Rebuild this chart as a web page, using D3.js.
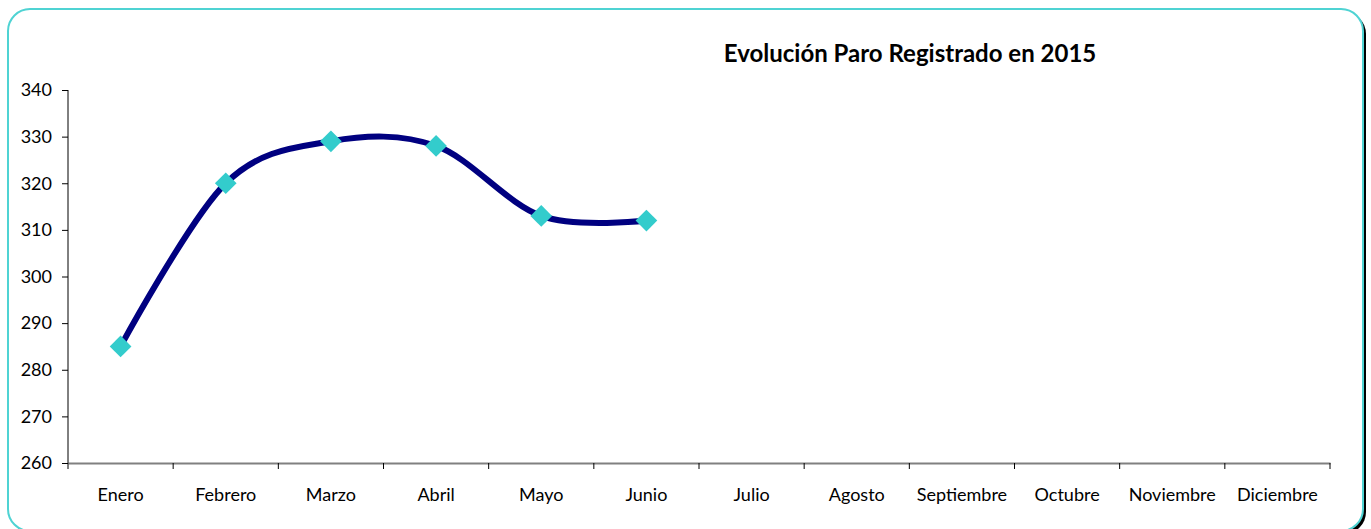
<!DOCTYPE html>
<html>
<head>
<meta charset="utf-8">
<script src="https://cdn.jsdelivr.net/npm/d3@7"></script>
<style>
  body { margin: 0; background: #fff; }
  svg { display: block; font-family: Lato, "Open Sans", sans-serif; }
</style>
</head>
<body>
<div id="chart"></div>
<script>
const months = ["Enero", "Febrero", "Marzo", "Abril", "Mayo", "Junio", "Julio", "Agosto", "Septiembre", "Octubre", "Noviembre", "Diciembre"];
const paro = [285, 320, 329, 328, 313, 312];
const yTicks = [260, 270, 280, 290, 300, 310, 320, 330, 340];
const title = "Evolución Paro Registrado en 2015";

const w = 1371, h = 529;
const padLeft = 68, padRight = 1330, padTop = 90, padBottom = 463;

const svg = d3.select("#chart").append("svg")
  .attr("width", w)
  .attr("height", h);

// frame with shadow
svg.append("rect")
  .attr("x", 11).attr("y", 12)
  .attr("width", 1355).attr("height", 522)
  .attr("rx", 22)
  .attr("fill", "#000");
svg.append("rect")
  .attr("x", 8).attr("y", 9)
  .attr("width", 1355).attr("height", 522)
  .attr("rx", 22)
  .attr("fill", "#fff")
  .attr("stroke", "#4fd3d3")
  .attr("stroke-width", 2);

svg.append("text")
  .attr("x", 910).attr("y", 62)
  .attr("text-anchor", "middle")
  .attr("font-size", 24)
  .attr("font-weight", "bold")
  .text(title);

const xScale = d3.scaleBand()
  .domain(months)
  .range([padLeft, padRight]);
const yScale = d3.scaleLinear()
  .domain([260, 340])
  .range([padBottom, padTop]);

// x axis
const xAxis = svg.append("g")
  .attr("transform", "translate(0," + padBottom + ")")
  .call(d3.axisBottom(xScale).tickSize(0).tickPadding(25));
xAxis.select(".domain").attr("stroke", "#808080").attr("stroke-width", 2);
xAxis.selectAll("text").attr("font-size", 18).attr("fill", "#000").attr("font-family", "Lato, sans-serif");
svg.append("g")
  .selectAll("line")
  .data(months.concat(["end"]))
  .enter()
  .append("line")
  .attr("x1", (d, i) => padLeft + xScale.step() * i)
  .attr("x2", (d, i) => padLeft + xScale.step() * i)
  .attr("y1", padBottom)
  .attr("y2", padBottom + 6)
  .attr("stroke", "#000");

// y axis
const yAxis = svg.append("g")
  .attr("transform", "translate(" + padLeft + ",0)")
  .call(d3.axisLeft(yScale).tickValues(yTicks).tickSize(6).tickPadding(10));
yAxis.select(".domain").attr("d", "M0," + padTop + "V" + padBottom).attr("stroke", "#000");
yAxis.selectAll("text").attr("font-size", 18).attr("fill", "#000").attr("font-family", "Lato, sans-serif");

const data = paro.map((v, i) => [months[i], v]);
const line = d3.line()
  .x(d => xScale(d[0]) + xScale.bandwidth() / 2)
  .y(d => yScale(d[1]))
  .curve(d3.curveCardinal.tension(0));

svg.append("path")
  .datum(data)
  .attr("d", line)
  .attr("fill", "none")
  .attr("stroke", "#000080")
  .attr("stroke-width", 6);

svg.selectAll(".pt")
  .data(data)
  .enter()
  .append("path")
  .attr("class", "pt")
  .attr("d", d3.symbol().type(d3.symbolDiamond2).size(300))
  .attr("transform", d => "translate(" + (xScale(d[0]) + xScale.bandwidth() / 2) + "," + yScale(d[1]) + ")")
  .attr("fill", "#33cccc");
</script>
</body>
</html>
